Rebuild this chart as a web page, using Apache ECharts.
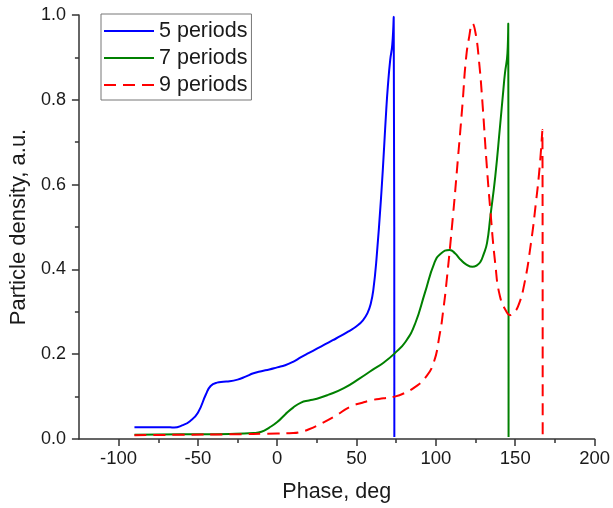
<!DOCTYPE html>
<html>
<head>
<meta charset="utf-8">
<script src="https://cdn.jsdelivr.net/npm/echarts@6/dist/echarts.min.js"></script>
<style>
html,body{margin:0;padding:0;background:#fff;}
#chart{width:613px;height:508px;}
</style>
</head>
<body>
<div id="chart"></div>
<script>
// Axis ticks
const xTicks = [-100, -50, 0, 50, 100, 150, 200];
const xMinorTicks = [-75, -25, 25, 75, 125, 175];
const yTicks = [0, 0.2, 0.4, 0.6, 0.8, 1.0];

const seriesNames = ['5 periods', '7 periods', '9 periods'];

// 5 periods
const phase5 = [-90, -80, -70, -65, -60, -55, -50, -45, -42, -38, -34, -30, -25, -20, -15, -10, -5, 0, 5, 10, 15, 20, 25, 30, 35, 40, 45, 50, 54, 57, 59, 60.5, 62.5, 65.6, 68.7, 69.7, 71.2, 72.5, 73.4, 73.8];
const density5 = [0.028, 0.028, 0.028, 0.027, 0.032, 0.042, 0.062, 0.105, 0.125, 0.133, 0.135, 0.136, 0.14, 0.147, 0.155, 0.16, 0.164, 0.169, 0.174, 0.182, 0.193, 0.203, 0.213, 0.223, 0.233, 0.243, 0.254, 0.266, 0.28, 0.298, 0.32, 0.35, 0.422, 0.579, 0.776, 0.831, 0.894, 0.93, 0.996, 0.005];

// 7 periods
const phase7 = [-90, -60, -30, -15, -10, -5, 0, 5, 10, 15, 20, 25, 32, 42, 52, 60, 67, 74, 81, 87, 93, 99, 103, 108.7, 112, 115.8, 119, 123, 126, 128.1, 130, 132.2, 134.3, 137.4, 140.4, 142.5, 143.5, 145.1, 145.6, 145.8];
const density7 = [0.01, 0.011, 0.012, 0.014, 0.017, 0.027, 0.04, 0.058, 0.074, 0.086, 0.091, 0.095, 0.104, 0.12, 0.143, 0.163, 0.18, 0.202, 0.23, 0.273, 0.344, 0.415, 0.437, 0.446, 0.438, 0.422, 0.412, 0.406, 0.41, 0.418, 0.435, 0.462, 0.524, 0.619, 0.737, 0.823, 0.862, 0.91, 0.98, 0.005];

// 9 periods
const phase9 = [-90, -60, -30, 0, 10, 15, 20, 28, 36, 46, 53, 60, 67, 74, 80, 87, 93, 98.4, 102.5, 104.5, 106.6, 110.7, 113.8, 116.8, 118.9, 121, 123, 125, 127.1, 129.2, 131.8, 134.3, 137.4, 140.4, 144.5, 146.6, 148.5, 151.7, 155.8, 159.9, 163, 165.4, 167.1, 167.3];
const density9 = [0.009, 0.01, 0.011, 0.013, 0.014, 0.017, 0.023, 0.037, 0.053, 0.076, 0.085, 0.092, 0.096, 0.1, 0.108, 0.123, 0.143, 0.178, 0.249, 0.3, 0.367, 0.524, 0.658, 0.792, 0.894, 0.949, 0.98, 0.957, 0.894, 0.8, 0.658, 0.54, 0.414, 0.336, 0.3, 0.292, 0.296, 0.312, 0.367, 0.462, 0.556, 0.642, 0.729, 0.005];

function zip(xs, ys) { return xs.map((x, i) => [x, ys[i]]); }

const FONT = "'Liberation Sans', Arial, sans-serif";
const AXIS_COLOR = '#333';
const TEXT_COLOR = '#1a1a1a';

const chart = echarts.init(document.getElementById('chart'), null, {renderer: 'canvas'});
chart.setOption({
  animation: false,
  backgroundColor: '#fff',
  textStyle: {fontFamily: FONT},
  grid: {left: 73, right: 15, top: 15, bottom: 69, containLabel: false},
  legend: {
    orient: 'vertical',
    left: 101,
    top: 14,
    data: seriesNames,
    borderColor: '#777',
    borderWidth: 1,
    borderRadius: 0,
    padding: [6, 4, 4, 2],
    itemGap: 5,
    itemWidth: 50,
    itemHeight: 14,
    itemStyle: {opacity: 0},
    textStyle: {fontFamily: FONT, fontSize: 21.5, color: TEXT_COLOR}
  },
  xAxis: [{
    type: 'value',
    min: -125,
    max: 200,
    name: 'Phase, deg',
    nameLocation: 'middle',
    nameGap: 42,
    nameTextStyle: {fontFamily: FONT, fontSize: 21.5, color: TEXT_COLOR},
    axisLine: {show: true, onZero: false, lineStyle: {color: AXIS_COLOR, width: 1.5}},
    axisTick: {show: true, customValues: xTicks, length: 7, lineStyle: {color: AXIS_COLOR, width: 1.5}},
    axisLabel: {customValues: xTicks, fontFamily: FONT, fontSize: 18.5, color: TEXT_COLOR, margin: 10},
    splitLine: {show: false}
  }, {
    type: 'value',
    min: -125,
    max: 200,
    position: 'bottom',
    axisLine: {show: false, onZero: false},
    axisTick: {show: true, customValues: xMinorTicks, length: 4, lineStyle: {color: AXIS_COLOR, width: 1.5}},
    axisLabel: {show: false},
    splitLine: {show: false}
  }],
  yAxis: {
    type: 'value',
    min: 0,
    max: 1,
    interval: 0.2,
    name: 'Particle density, a.u.',
    nameLocation: 'middle',
    nameGap: 46,
    nameTextStyle: {fontFamily: FONT, fontSize: 22, color: TEXT_COLOR},
    axisLine: {show: true, onZero: false, lineStyle: {color: AXIS_COLOR, width: 1.5}},
    axisTick: {show: true, length: 7, lineStyle: {color: AXIS_COLOR, width: 1.5}},
    minorTick: {show: true, splitNumber: 2, length: 4, lineStyle: {color: AXIS_COLOR, width: 1.5}},
    axisLabel: {customValues: yTicks, fontFamily: FONT, fontSize: 18, color: TEXT_COLOR, margin: 13,
      formatter: v => Number(v).toFixed(1)},
    splitLine: {show: false}
  },
  series: [{
    name: seriesNames[0],
    type: 'line',
    data: zip(phase5, density5),
    symbol: 'none',
    smooth: 0.5,
    lineStyle: {color: '#0000ff', width: 2},
    itemStyle: {color: '#0000ff'}
  }, {
    name: seriesNames[1],
    type: 'line',
    data: zip(phase7, density7),
    symbol: 'none',
    smooth: 0.5,
    lineStyle: {color: '#008000', width: 2},
    itemStyle: {color: '#008000'}
  }, {
    name: seriesNames[2],
    type: 'line',
    data: zip(phase9, density9),
    symbol: 'none',
    smooth: 0.5,
    lineStyle: {color: '#ff0000', width: 2, type: [12, 7]},
    itemStyle: {color: '#ff0000'}
  }]
});
</script>
</body>
</html>
